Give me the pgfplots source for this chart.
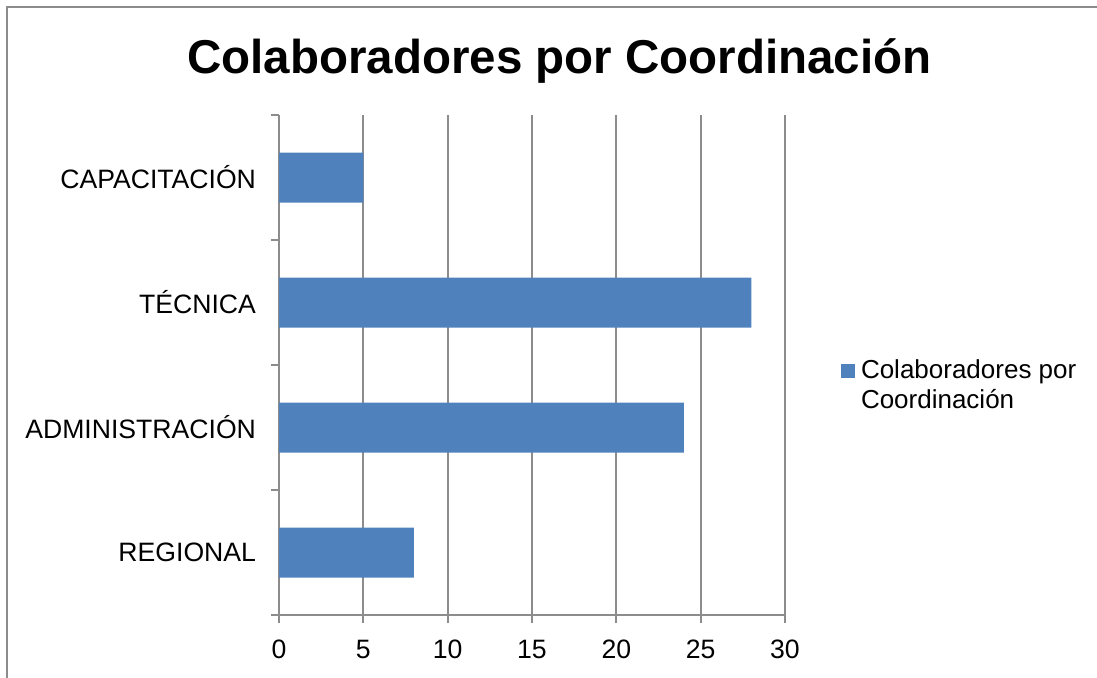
\documentclass[border=0pt]{standalone}
\usepackage{fontspec}
\setmainfont{Liberation Sans}
\usepackage{pgfplots}
\pgfplotsset{compat=1.18}
\definecolor{barblue}{HTML}{4F81BD}
\definecolor{gridgray}{HTML}{8C8C8C}
\begin{document}
\begin{tikzpicture}
\useasboundingbox (0,0) rectangle (548.5pt,338.5pt);
\draw[gridgray, line width=1pt] (3.5pt,-20pt) rectangle (600pt,335pt);
\begin{axis}[
  at={(139.5pt,31pt)}, anchor=south west,
  scale only axis, width=253pt, height=250pt,
  xmin=0, xmax=30, ymin=0, ymax=4,
  xtick={0,5,...,30},
  ytick={0,1,2,3,4},
  yticklabels={},
  extra y ticks={0.5,1.5,2.5,3.5},
  extra y tick labels={REGIONAL,ADMINISTRACIÓN,TÉCNICA,CAPACITACIÓN},
  extra y tick style={major tick length=0pt},
  major tick length=4pt,
  tick align=outside,
  axis x line*=bottom, axis y line*=left,
  axis line style={gridgray, line width=1pt},
  every tick/.style={gridgray, line width=1pt},
  xmajorgrids,
  major grid style={gridgray, line width=1pt},
  /pgf/number format/assume math mode=true,
  tick label style={font=\fontsize{13.3}{16}\selectfont, black},
  xticklabel style={yshift=-5pt},
  yticklabel style={xshift=-8pt},
  title={Colaboradores por Coordinación},
  title style={at={(0.554,1.060)}, anchor=base, font=\fontsize{23.75}{28}\selectfont\bfseries},
  legend style={draw=none, fill=none, inner sep=0pt, outer sep=0pt,
    at={(1.1107,0.458)}, anchor=west,
    font=\fontsize{13}{15}\selectfont,
    column sep=3pt,
    nodes={inner sep=0pt, align=left, anchor=west}},
]
\addplot[xbar, bar width=0.4, bar shift=0pt, fill=barblue, draw=none,
  legend image code/.code={\fill[barblue] (0pt,4pt) rectangle (7pt,11pt);}]
  coordinates {(8,0.5) (24,1.5) (28,2.5) (5,3.5)};
\addlegendentry{Colaboradores por\\Coordinación}
\end{axis}
\end{tikzpicture}
\end{document}
